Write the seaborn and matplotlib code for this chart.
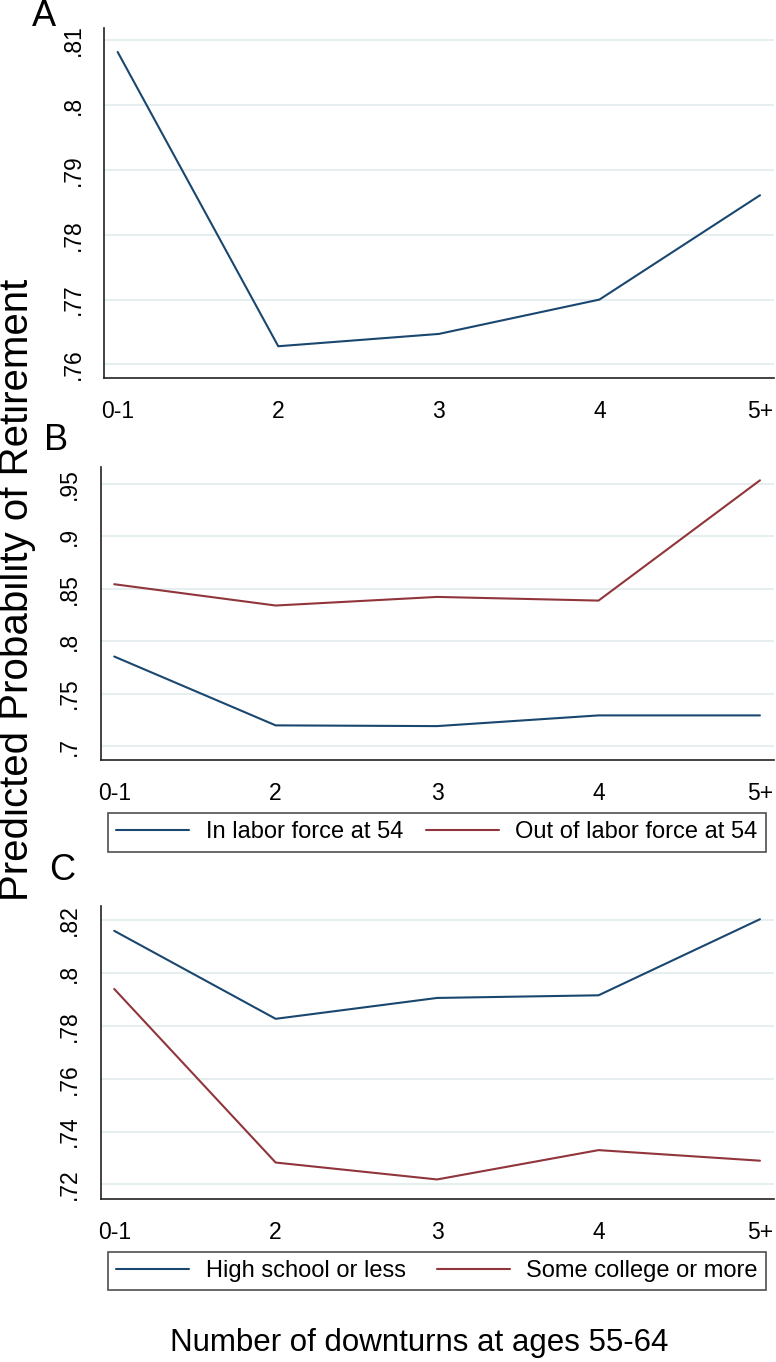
import numpy as np
import pandas as pd
import matplotlib
matplotlib.use("Agg")
import matplotlib.pyplot as plt
import seaborn as sns

sns.set_style("white")
plt.rcParams['font.family'] = ['Liberation Sans', 'DejaVu Sans']
plt.rcParams['text.color'] = 'black'
plt.rcParams['xtick.color'] = 'black'
plt.rcParams['ytick.color'] = 'black'

# data
downturns = ["0-1", "2", "3", "4", "5+"]

prob_all = [0.8082, 0.7628, 0.7647, 0.7700, 0.7861]

prob_in_lf = [0.7853, 0.7197, 0.7190, 0.7292, 0.7292]
prob_out_lf = [0.8542, 0.8339, 0.8421, 0.8386, 0.9532]

prob_hs = [0.8160, 0.7827, 0.7906, 0.7916, 0.8204]
prob_college = [0.7940, 0.7283, 0.7219, 0.7330, 0.7290]

yticks_a = [0.76, 0.77, 0.78, 0.79, 0.80, 0.81]
yticks_b = [0.70, 0.75, 0.80, 0.85, 0.90, 0.95]
yticks_c = [0.72, 0.74, 0.76, 0.78, 0.80, 0.82]

navy = "#1a476f"
maroon = "#90353b"
grid_col = "#e6eef0"

W, H = 776, 1362
fig = plt.figure(figsize=(W / 100, H / 100), dpi=100)


def px_axes(left, top, right, bottom):
    return fig.add_axes([left / W, 1 - bottom / H, (right - left) / W, (bottom - top) / H])


def stata_fmt(v):
    s = f"{v:.2f}".rstrip("0").rstrip(".")
    return s[1:] if s.startswith("0") else s


def style_axes(ax, yticks, ylim):
    ax.set_xlim(-0.085, 4.087)
    ax.set_ylim(*ylim)
    ax.set_xticks(range(len(downturns)))
    ax.set_xticklabels(downturns, fontsize=16.5)
    ax.set_yticks(yticks)
    ax.set_yticklabels([stata_fmt(v) for v in yticks], fontsize=16.5,
                       rotation=90, va="center")
    for y in yticks:
        ax.axhline(y, color=grid_col, lw=1.5, zorder=0)
    for s in ["top", "right"]:
        ax.spines[s].set_visible(False)
    for s in ["left", "bottom"]:
        ax.spines[s].set_color("#222222")
        ax.spines[s].set_linewidth(1.2)
    ax.tick_params(axis="both", direction="out", length=8, width=1.2,
                   color="#222222", pad=6)
    ax.tick_params(axis="x", pad=8)
    ax.set_xlabel("")
    ax.set_ylabel("")


x = np.arange(len(downturns))

# Panel A
ax_a = px_axes(104, 28, 774, 378)
df_a = pd.DataFrame({"x": x, "p": prob_all})
sns.lineplot(data=df_a, x="x", y="p", color=navy, lw=1.5, ax=ax_a)
style_axes(ax_a, yticks_a, (0.7579, 0.8119))

# Panel B
ax_b = px_axes(100.5, 467, 774, 760)
df_b = pd.DataFrame({
    "x": np.concatenate([x, x]),
    "p": prob_in_lf + prob_out_lf,
    "group": ["In labor force at 54"] * 5 + ["Out of labor force at 54"] * 5,
})
sns.lineplot(data=df_b, x="x", y="p", hue="group", palette=[navy, maroon],
             lw=1.5, ax=ax_b, legend=True)
style_axes(ax_b, yticks_b, (0.6867, 0.9659))

# Panel C
ax_c = px_axes(100.5, 906, 774, 1199)
df_c = pd.DataFrame({
    "x": np.concatenate([x, x]),
    "p": prob_hs + prob_college,
    "group": ["High school or less"] * 5 + ["Some college or more"] * 5,
})
sns.lineplot(data=df_c, x="x", y="p", hue="group", palette=[navy, maroon],
             lw=1.5, ax=ax_c, legend=True)
style_axes(ax_c, yticks_c, (0.7145, 0.8254))


def box_legend(ax, top, bottom):
    handles, labels = ax.get_legend_handles_labels()
    ax.get_legend().remove()
    left, right = 108, 766
    leg = fig.legend(handles, labels, ncol=2, mode="expand",
                     bbox_to_anchor=(left / W, 1 - bottom / H, (right - left) / W, (bottom - top) / H),
                     loc="center", fontsize=17, handlelength=3.1, handletextpad=0.7,
                     frameon=True, fancybox=False, edgecolor="#222222",
                     borderaxespad=0, borderpad=0.35)
    leg.get_frame().set_linewidth(1.2)
    for line in leg.get_lines():
        line.set_linewidth(1.5)


box_legend(ax_b, 812, 853)
box_legend(ax_c, 1250, 1292)

# panel letters
fig.text(44 / W, 1 - 17 / H, "A", fontsize=26, ha="center", va="center")
fig.text(56 / W, 1 - 440 / H, "B", fontsize=26, ha="center", va="center")
fig.text(62 / W, 1 - 871 / H, "C", fontsize=26, ha="center", va="center")

# shared axis titles
fig.text(17 / W, 1 - 590 / H, "Predicted Probability of Retirement", fontsize=29,
         rotation=90, ha="center", va="center")
fig.text(419 / W, 1 - 1343 / H, "Number of downturns at ages 55-64", fontsize=22.5,
         ha="center", va="center")

fig.savefig("out.png", dpi=100)
